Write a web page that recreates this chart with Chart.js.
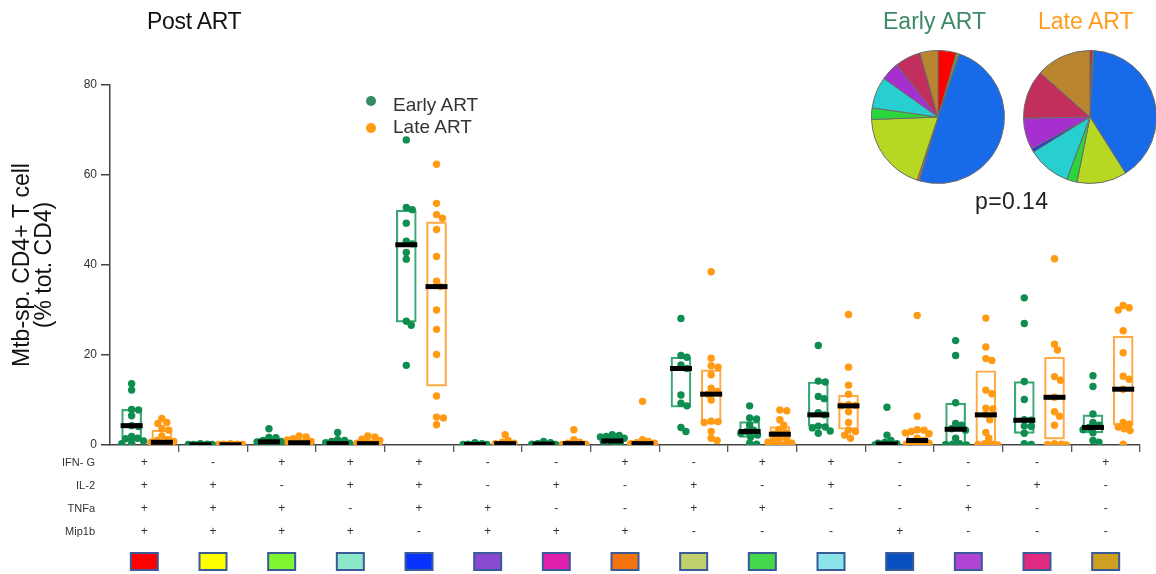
<!DOCTYPE html>
<html>
<head>
<meta charset="utf-8">
<script src="https://cdn.jsdelivr.net/npm/chart.js"></script>
<style>
  html, body { margin: 0; padding: 0; background: #fff; }
  #wrap { position: relative; width: 1156px; height: 574px; overflow: hidden;
          font-family: "Liberation Sans", Arial, sans-serif; }
  #wrap canvas { position: absolute; }
  .txt { position: absolute; line-height: 1; white-space: nowrap; }
  .dot { position: absolute; width: 10px; height: 10px; border-radius: 50%; }
</style>
</head>
<body>
<div id="wrap">
  <canvas id="main" width="1156" height="574" style="left:0;top:0"></canvas>
  <canvas id="pieEarly" width="140" height="140" style="left:868px;top:47px"></canvas>
  <canvas id="pieLate" width="140" height="140" style="left:1020px;top:47px"></canvas>

  <div class="txt" style="left:147px;top:10px;font-size:23px;color:#111;letter-spacing:-0.3px">Post ART</div>
  <div class="txt" style="left:883px;top:10px;font-size:23px;color:#3f8a66">Early ART</div>
  <div class="txt" style="left:1038px;top:10px;font-size:23px;color:#ff9c1f">Late ART</div>
  <div class="txt" style="left:975px;top:190px;font-size:23px;color:#222;letter-spacing:0.4px">p=0.14</div>

  <div class="dot" style="left:366px;top:96px;background:#358a5f"></div>
  <div class="txt" style="left:393px;top:95px;font-size:19px;color:#333">Early ART</div>
  <div class="dot" style="left:366px;top:123px;background:#ff9a12"></div>
  <div class="txt" style="left:393px;top:117px;font-size:19px;color:#333">Late ART</div>
</div>

<script>
// Cytokine combinations (one column per combination)
const markerNames = ['IFN- G', 'IL-2', 'TNFa', 'Mip1b'];
const ifng  = ['+','-','+','+','+','-','-','+','-','+','+','-','-','-','+'];
const il2   = ['+','+','-','+','+','-','+','-','+','-','+','-','-','+','-'];
const tnfa  = ['+','+','+','-','+','+','-','-','+','+','-','-','+','-','-'];
const mip1b = ['+','+','+','+','-','+','+','+','-','-','-','+','-','-','-'];
const swatchColors = ['#ff0000','#ffff00','#80f531','#8ae8c8','#0733ff','#8a4ad0','#e01fae',
                      '#f5730f','#c1cf6c','#45d84b','#8ae4ea','#0a4fbf','#b045d4','#df2a80','#cf9f22'];

// Per-donor frequencies (% of total CD4), Early ART group
const earlyART = [
  [13.6, 12.2, 7.9, 7.8, 6.5, 4.3, 4.1, 1.9, 1.5, 1.4, 0.9, 0.4, 0.3],
  [0.3, 0.2, 0.1, 0.1, 0.1, 0, 0, 0],
  [3.6, 1.7, 1.6, 1.0, 0.8, 0.7, 0.5, 0.4, 0.3, 0.2, 0.1],
  [2.8, 1.2, 1.0, 0.8, 0.5, 0.4, 0.3, 0.2, 0.1, 0.1],
  [67.8, 52.8, 52.3, 49.3, 45.3, 44.7, 42.8, 41.3, 27.5, 26.6, 17.7],
  [0.5, 0.3, 0.2, 0.1, 0.1, 0, 0],
  [0.8, 0.5, 0.3, 0.2, 0.1, 0],
  [2.3, 2.1, 1.9, 1.8, 1.5, 1.3, 1.0, 0.8, 0.5, 0.3],
  [28.1, 19.9, 19.5, 17.8, 17.0, 11.1, 9.3, 8.7, 3.9, 3.0],
  [8.7, 6.0, 5.8, 4.4, 3.3, 3.0, 2.6, 2.2, 1.8, 0.4, 0.2],
  [22.1, 14.2, 14.0, 10.8, 10.3, 7.2, 6.7, 4.2, 4.0, 3.8, 3.1, 2.6],
  [8.4, 2.2, 1.0, 0.6, 0.4, 0.3, 0.2, 0.1, 0.1, 0],
  [23.2, 19.9, 9.4, 4.8, 4.4, 3.6, 3.3, 1.5, 0.3, 0.2, 0.1, 0],
  [32.7, 27.0, 14.1, 10.1, 5.6, 5.5, 4.2, 4.1, 2.6, 0.3, 0.1],
  [15.4, 13.0, 6.9, 5.0, 4.4, 3.9, 3.4, 2.7, 1.0, 0.6]
];
const earlyMedian = [4.3, 0.05, 0.7, 0.3, 44.5, 0.1, 0.2, 0.9, 17.0, 3.0, 6.7, 0.2, 3.5, 5.5, 3.9];
const earlyQ1     = [1.0, 0, 0.2, 0.1, 27.3, 0, 0, 0.4, 8.4, 1.7, 4.2, 0, 0.1, 2.6, 2.7];
const earlyQ3     = [7.9, 0.1, 1.4, 0.8, 52.2, 0.2, 0.4, 1.9, 19.5, 5.2, 14.0, 0.6, 9.3, 14.1, 6.7];

// Per-donor frequencies (% of total CD4), Late ART group
const lateART = [
  [5.9, 5.0, 4.8, 3.6, 3.3, 2.0, 1.2, 1.0, 0.8, 0.6, 0.4, 0.2, 0.1, 0],
  [0.3, 0.2, 0.2, 0.1, 0.1, 0, 0, 0],
  [2.0, 1.8, 1.4, 1.1, 0.8, 0.6, 0.5, 0.4, 0.3, 0.2, 0.1, 0.1],
  [2.0, 1.8, 1.3, 1.0, 0.6, 0.4, 0.3, 0.2, 0.1, 0.1, 0],
  [62.4, 53.7, 51.2, 50.4, 47.9, 41.9, 36.4, 35.2, 30.0, 25.7, 20.1, 10.9, 6.2, 6.0, 4.5],
  [2.3, 1.0, 0.6, 0.4, 0.3, 0.2, 0.1, 0],
  [3.4, 1.2, 0.6, 0.4, 0.2, 0.1, 0],
  [9.7, 1.2, 0.8, 0.5, 0.4, 0.3, 0.2, 0.1, 0],
  [38.5, 19.3, 17.6, 17.3, 15.6, 12.6, 11.9, 11.3, 10.0, 5.3, 5.2, 5.0, 3.0, 1.5, 1.0],
  [7.8, 7.6, 5.6, 4.4, 3.4, 2.8, 2.4, 1.6, 1.3, 1.0, 0.6, 0.4, 0.2, 0.1, 0],
  [29.0, 17.3, 13.3, 11.3, 9.0, 8.8, 8.7, 7.4, 5.0, 3.3, 3.0, 2.2, 1.5],
  [28.8, 6.4, 3.4, 3.3, 3.0, 2.7, 2.5, 1.5, 1.0, 0.6, 0.4, 0.2, 0.1, 0],
  [28.2, 21.8, 19.2, 18.8, 12.2, 11.4, 8.2, 8.0, 6.8, 5.6, 2.8, 1.5, 0.3, 0.2, 0.1, 0],
  [41.4, 22.4, 21.1, 15.2, 14.4, 10.6, 7.4, 6.4, 4.4, 0.3, 0.2, 0.1, 0],
  [31.0, 30.5, 30.0, 25.4, 20.5, 15.3, 14.6, 12.4, 5.0, 4.6, 4.0, 3.6, 3.2, 0.2]
];
const lateMedian = [0.6, 0.05, 0.5, 0.3, 35.2, 0.3, 0.3, 0.3, 11.3, 2.4, 8.7, 1.0, 6.7, 10.6, 12.4];
const lateQ1     = [0.1, 0, 0.2, 0.1, 13.1, 0.1, 0.1, 0.1, 4.7, 0, 3.5, 0.1, 0.1, 1.3, 4.4];
const lateQ3     = [3.3, 0.15, 1.2, 1.0, 49.6, 0.6, 0.8, 0.7, 16.7, 4.1, 11.1, 3.2, 16.5, 19.5, 24.2];

// Share of the total response per combination (pie charts)
const earlyShare = [4.5, 0, 0.5, 0.3, 49.5, 0, 0, 0.5, 19.4, 2.8, 7.7, 0, 4.5, 6.3, 4.4];
const lateShare  = [0.6, 0, 0.3, 0, 40.0, 0, 0, 0, 12.1, 2.5, 10.5, 0.9, 7.6, 11.8, 13.4];
const pieColors  = ['#ff0000','#ffff00','#4fd12c','#7fe0c0','#176be8','#8a4fd0','#e020a8',
                    '#e8651c','#b6d823','#2bd53b','#27cfd0','#2b3fcf','#a72fcf','#c22f5c','#b9862f'];

// Position of each group inside its column
const EARLY_POS = 0.315, LATE_POS = 0.755;
const PX_PER_X = 1039 / 15, PX_PER_Y = 360 / 80;

// Simple deterministic beeswarm: shift overlapping dots sideways
function swarm(values, center) {
  const minDist = 6.2, maxOff = 12;
  const placed = [];
  return values.map(v => {
    const yPx = v * PX_PER_Y;
    let chosen = null, bestOff = 0, bestGap = -1;
    for (let k = 0; k <= 2 * maxOff; k++) {
      const off = k === 0 ? 0 : (k % 2 ? 1 : -1) * Math.ceil(k / 2);
      let gap = Infinity;
      for (const p of placed) {
        const d = Math.hypot(off - p.off, yPx - p.y);
        if (d < gap) gap = d;
      }
      if (gap >= minDist) { chosen = off; break; }
      if (gap > bestGap) { bestGap = gap; bestOff = off; }
    }
    if (chosen === null) chosen = bestOff;
    placed.push({ off: chosen, y: yPx });
    return { x: center + chosen / PX_PER_X, y: v };
  });
}

const earlyPts = [], latePts = [];
earlyART.forEach((vals, i) => earlyPts.push(...swarm(vals, i + EARLY_POS)));
lateART.forEach((vals, i) => latePts.push(...swarm(vals, i + LATE_POS)));

const GREEN = '#0f8c50', ORANGE = '#ff9a12';

const markerTable = {
  id: 'markerTable',
  afterDraw(chart) {
    const ctx = chart.ctx, xs = chart.scales.x;
    const rows = [ifng, il2, tnfa, mip1b];
    ctx.save();
    ctx.fillStyle = '#333';
    ctx.textBaseline = 'middle';
    rows.forEach((row, r) => {
      const y = xs.top + 18 + r * 23;
      ctx.font = '11px "Liberation Sans", Arial, sans-serif';
      ctx.textAlign = 'right';
      ctx.fillText(markerNames[r], 95, y);
      ctx.font = '12px "Liberation Sans", Arial, sans-serif';
      ctx.textAlign = 'center';
      row.forEach((s, i) => ctx.fillText(s, xs.getPixelForValue(i + 0.5), y));
    });
    swatchColors.forEach((c, i) => {
      const cx = xs.getPixelForValue(i + 0.5);
      const top = xs.top + 108;
      ctx.fillStyle = c;
      ctx.fillRect(cx - 13.5, top, 27, 17);
      ctx.strokeStyle = '#3a5a98';
      ctx.lineWidth = 2;
      ctx.strokeRect(cx - 13.5, top, 27, 17);
    });
    ctx.restore();
  }
};

new Chart(document.getElementById('main'), {
  type: 'scatter',
  data: {
    datasets: [
      { type: 'scatter', data: earlyMedian.map((m, i) => ({ x: i + EARLY_POS, y: m })),
        pointStyle: 'line', pointRadius: 11, pointBorderWidth: 5, pointBorderColor: '#000', order: 0 },
      { type: 'scatter', data: lateMedian.map((m, i) => ({ x: i + LATE_POS, y: m })),
        pointStyle: 'line', pointRadius: 11, pointBorderWidth: 5, pointBorderColor: '#000', order: 0 },
      { type: 'scatter', data: earlyPts, pointRadius: 3.7, pointBorderWidth: 0,
        pointBackgroundColor: GREEN, order: 1 },
      { type: 'scatter', data: latePts, pointRadius: 3.7, pointBorderWidth: 0,
        pointBackgroundColor: ORANGE, order: 1 },
      { type: 'bar', data: earlyQ1.map((q, i) => ({ x: i + EARLY_POS, y: [q, earlyQ3[i]] })),
        backgroundColor: 'rgba(0,0,0,0)', borderColor: '#3ba774', borderWidth: 1.5,
        borderSkipped: false, barThickness: 20, grouped: false, order: 2 },
      { type: 'bar', data: lateQ1.map((q, i) => ({ x: i + LATE_POS, y: [q, lateQ3[i]] })),
        backgroundColor: 'rgba(0,0,0,0)', borderColor: '#ffab45', borderWidth: 1.5,
        borderSkipped: false, barThickness: 20, grouped: false, order: 2 }
    ]
  },
  options: {
    responsive: false,
    animation: false,
    events: [],
    layout: { padding: { top: 85, right: 7, bottom: 0, left: 0 } },
    plugins: { legend: { display: false }, tooltip: { enabled: false } },
    scales: {
      x: {
        type: 'linear', min: 0, max: 15, offset: false,
        ticks: { stepSize: 1, autoSkip: false, maxRotation: 0, callback: () => '' },
        grid: { drawOnChartArea: false, offset: false, tickLength: 7, lineWidth: 1.3,
                color: c => (c.tick && c.tick.value === 0) ? 'rgba(0,0,0,0)' : '#555' },
        border: { color: '#444', width: 1.5 },
        afterFit: s => { s.height = 129; }
      },
      y: {
        min: 0, max: 80,
        ticks: { stepSize: 20, color: '#333', padding: 4,
                 font: { family: '"Liberation Sans", Arial, sans-serif', size: 12 } },
        grid: { drawOnChartArea: false, tickLength: 9, color: '#444', lineWidth: 1.5 },
        border: { color: '#444', width: 1.5 },
        title: { display: true, text: ['Mtb-sp. CD4+ T cell', '(% tot. CD4)'], color: '#111',
                 font: { family: '"Liberation Sans", Arial, sans-serif', size: 23, lineHeight: 0.95 },
                 padding: { top: 12, bottom: 0 } },
        afterFit: s => { s.width = 110; }
      }
    }
  },
  plugins: [markerTable]
});

function makePie(id, shares) {
  new Chart(document.getElementById(id), {
    type: 'pie',
    data: { datasets: [{ data: shares, backgroundColor: pieColors,
                         borderColor: '#6a6a6a', borderWidth: 1 }] },
    options: {
      responsive: false, animation: false, events: [],
      layout: { padding: 3 },
      plugins: { legend: { display: false }, tooltip: { enabled: false } }
    }
  });
}
makePie('pieEarly', earlyShare);
makePie('pieLate', lateShare);
</script>
</body>
</html>
